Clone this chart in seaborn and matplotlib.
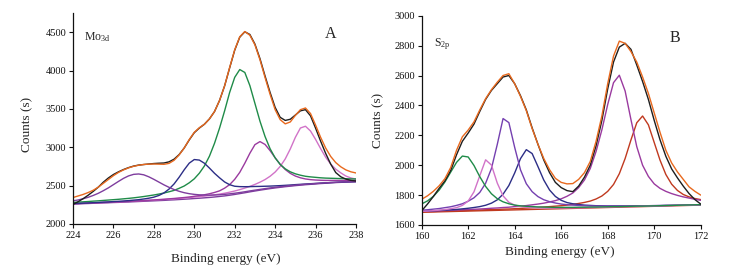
import matplotlib
matplotlib.use("Agg")
import matplotlib.pyplot as plt
import seaborn as sns

# ---------------- Panel A : Mo 3d ----------------
energy_a = [224.0, 224.25, 224.5, 224.75, 225.0, 225.25, 225.5, 225.75, 226.0, 226.25, 226.5, 226.75,
            227.0, 227.25, 227.5, 227.75, 228.0, 228.25, 228.5, 228.75, 229.0, 229.25, 229.5, 229.75,
            230.0, 230.25, 230.5, 230.75, 231.0, 231.25, 231.5, 231.75, 232.0, 232.25, 232.5, 232.75,
            233.0, 233.25, 233.5, 233.75, 234.0, 234.25, 234.5, 234.75, 235.0, 235.25, 235.5, 235.75,
            236.0, 236.25, 236.5, 236.75, 237.0, 237.25, 237.5, 237.75, 238.0]
baseline_a = [2260, 2262, 2265, 2267, 2270, 2272, 2275, 2277, 2280, 2282, 2285, 2287, 2290, 2293, 2296, 2299,
              2302, 2305, 2308, 2312, 2315, 2319, 2323, 2327, 2332, 2336, 2341, 2346, 2352, 2359, 2366, 2375,
              2385, 2396, 2407, 2419, 2430, 2441, 2451, 2461, 2470, 2478, 2486, 2493, 2500, 2506, 2512, 2517,
              2522, 2527, 2531, 2536, 2540, 2543, 2546, 2548, 2550]
purple_a = [2302, 2313, 2329, 2348, 2372, 2400, 2434, 2471, 2513, 2555, 2595, 2627, 2647, 2652, 2641, 2615,
            2582, 2546, 2510, 2478, 2449, 2426, 2408, 2395, 2386, 2380, 2377, 2376, 2378, 2381, 2386, 2393,
            2401, 2410, 2420, 2431, 2441, 2451, 2461, 2470, 2479, 2486, 2493, 2500, 2506, 2512, 2518, 2522,
            2527, 2532, 2536, 2541, 2544, 2547, 2550, 2552, 2554]
navy_a = [2266, 2268, 2272, 2274, 2278, 2281, 2285, 2288, 2292, 2296, 2300, 2305, 2311, 2317, 2326, 2336,
          2350, 2372, 2405, 2455, 2522, 2609, 2706, 2793, 2840, 2833, 2792, 2729, 2661, 2602, 2548, 2512,
          2492, 2487, 2486, 2487, 2489, 2490, 2492, 2494, 2497, 2500, 2504, 2508, 2513, 2517, 2521, 2525,
          2529, 2533, 2536, 2540, 2543, 2546, 2549, 2551, 2553]
green_a = [2281, 2285, 2289, 2293, 2298, 2302, 2307, 2312, 2317, 2322, 2328, 2334, 2341, 2349, 2358, 2368,
           2378, 2390, 2404, 2420, 2438, 2465, 2495, 2537, 2589, 2662, 2756, 2884, 3051, 3250, 3474, 3715,
           3911, 4013, 3975, 3804, 3572, 3340, 3141, 2981, 2862, 2776, 2719, 2680, 2654, 2636, 2622, 2614,
           2608, 2602, 2598, 2596, 2594, 2592, 2590, 2588, 2587]
magenta_a = [2264, 2266, 2269, 2271, 2274, 2277, 2280, 2282, 2286, 2288, 2292, 2294, 2298, 2301, 2305, 2309,
             2313, 2318, 2322, 2328, 2333, 2339, 2345, 2352, 2361, 2370, 2381, 2394, 2411, 2432, 2467, 2513,
             2582, 2673, 2792, 2922, 3034, 3074, 3037, 2956, 2863, 2778, 2710, 2660, 2625, 2602, 2587, 2578,
             2573, 2570, 2568, 2568, 2568, 2568, 2568, 2568, 2568]
pink_a = [2264, 2266, 2270, 2272, 2275, 2277, 2281, 2283, 2286, 2289, 2292, 2294, 2298, 2301, 2305, 2308,
          2312, 2316, 2320, 2324, 2328, 2333, 2339, 2344, 2351, 2356, 2363, 2371, 2380, 2390, 2401, 2415,
          2430, 2448, 2468, 2490, 2516, 2545, 2579, 2622, 2677, 2750, 2848, 2978, 3129, 3251, 3274, 3212,
          3103, 2983, 2870, 2781, 2714, 2666, 2625, 2600, 2585]
envelope_a = [2345, 2365, 2385, 2410, 2440, 2480, 2530, 2580, 2630, 2672, 2705, 2732, 2752, 2766, 2776, 2780,
              2782, 2780, 2778, 2790, 2830, 2900, 2990, 3100, 3195, 3255, 3300, 3370, 3465, 3610, 3800, 4040,
              4270, 4440, 4508, 4460, 4335, 4140, 3910, 3690, 3490, 3360, 3305, 3330, 3415, 3490, 3512, 3440,
              3290, 3130, 2990, 2880, 2800, 2745, 2705, 2680, 2665]
measured_a = [2255, 2290, 2330, 2375, 2425, 2480, 2545, 2600, 2645, 2680, 2710, 2735, 2755, 2768, 2775, 2782,
              2788, 2792, 2795, 2810, 2845, 2905, 2990, 3095, 3190, 3250, 3300, 3370, 3465, 3610, 3800, 4035,
              4265, 4435, 4505, 4470, 4345, 4155, 3930, 3715, 3520, 3390, 3350, 3365, 3420, 3475, 3490, 3410,
              3250, 3080, 2920, 2780, 2670, 2615, 2585, 2568, 2560]

# ---------------- Panel B : S 2p ----------------
energy_b = [160.0, 160.25, 160.5, 160.75, 161.0, 161.25, 161.5, 161.75, 162.0, 162.25, 162.5, 162.75,
            163.0, 163.25, 163.5, 163.75, 164.0, 164.25, 164.5, 164.75, 165.0, 165.25, 165.5, 165.75,
            166.0, 166.25, 166.5, 166.75, 167.0, 167.25, 167.5, 167.75, 168.0, 168.25, 168.5, 168.75,
            169.0, 169.25, 169.5, 169.75, 170.0, 170.25, 170.5, 170.75, 171.0, 171.25, 171.5, 171.75, 172.0]
baseline_b = [1685, 1686, 1687, 1688, 1689, 1690, 1691, 1692, 1693, 1694, 1695, 1696, 1697, 1698, 1699, 1700,
              1701, 1702, 1703, 1704, 1705, 1706, 1707, 1708, 1709, 1710, 1711, 1712, 1713, 1714, 1715, 1716,
              1717, 1718, 1719, 1720, 1721, 1722, 1723, 1724, 1725, 1726, 1727, 1728, 1729, 1730, 1731, 1732, 1733]
green_b = [1741, 1761, 1791, 1833, 1888, 1954, 2019, 2061, 2055, 1998, 1923, 1858, 1809, 1776, 1755, 1742,
           1733, 1728, 1725, 1723, 1721, 1720, 1719, 1718, 1718, 1718, 1718, 1719, 1719, 1720, 1720, 1721,
           1722, 1723, 1723, 1724, 1725, 1726, 1726, 1727, 1728, 1729, 1730, 1731, 1732, 1733, 1734, 1735, 1736]
pink_b = [1691, 1693, 1696, 1699, 1703, 1709, 1716, 1731, 1760, 1822, 1930, 2036, 2001, 1881, 1795, 1752,
          1733, 1724, 1719, 1717, 1715, 1714, 1714, 1714, 1714, 1714, 1715, 1715, 1716, 1717, 1718, 1719,
          1720, 1721, 1722, 1723, 1723, 1724, 1725, 1726, 1727, 1728, 1729, 1730, 1731, 1732, 1733, 1734, 1735]
violet_b = [1699, 1702, 1706, 1710, 1716, 1722, 1731, 1742, 1759, 1782, 1818, 1879, 1978, 2138, 2312, 2285,
            2119, 1969, 1876, 1823, 1790, 1769, 1756, 1747, 1740, 1736, 1733, 1731, 1729, 1728, 1727, 1727,
            1727, 1727, 1727, 1727, 1728, 1728, 1729, 1729, 1730, 1730, 1731, 1732, 1733, 1733, 1734, 1735, 1736]
navy_b = [1691, 1693, 1695, 1697, 1699, 1702, 1704, 1708, 1712, 1717, 1723, 1732, 1746, 1768, 1806, 1864,
          1948, 2044, 2104, 2078, 1991, 1901, 1834, 1791, 1765, 1750, 1742, 1737, 1733, 1731, 1729, 1728,
          1727, 1727, 1727, 1727, 1727, 1728, 1728, 1729, 1729, 1730, 1731, 1731, 1732, 1733, 1734, 1735, 1735]
purple_b = [1691, 1692, 1694, 1695, 1697, 1698, 1700, 1702, 1704, 1705, 1707, 1709, 1712, 1714, 1717, 1719,
            1723, 1726, 1730, 1735, 1740, 1746, 1754, 1763, 1775, 1792, 1814, 1850, 1901, 1978, 2092, 2237,
            2406, 2552, 2602, 2496, 2305, 2124, 2000, 1925, 1875, 1845, 1825, 1810, 1798, 1788, 1780, 1772, 1765]
red_b = [1688, 1689, 1690, 1692, 1693, 1694, 1695, 1696, 1698, 1699, 1700, 1702, 1703, 1704, 1706, 1707,
         1709, 1711, 1713, 1715, 1717, 1720, 1723, 1726, 1729, 1733, 1738, 1744, 1751, 1760, 1774, 1794,
         1825, 1871, 1943, 2045, 2169, 2284, 2329, 2270, 2152, 2034, 1938, 1873, 1831, 1804, 1788, 1777, 1770]
envelope_b = [1772, 1795, 1825, 1862, 1910, 1985, 2100, 2190, 2235, 2290, 2370, 2445, 2505, 2555, 2600, 2612,
              2545, 2460, 2365, 2245, 2140, 2045, 1970, 1912, 1885, 1875, 1877, 1905, 1950, 2025, 2160, 2330,
              2545, 2730, 2830, 2815, 2760, 2690, 2590, 2480, 2350, 2220, 2100, 2015, 1955, 1905, 1855, 1825, 1800]
measured_b = [1695, 1740, 1790, 1845, 1895, 1965, 2070, 2160, 2215, 2275, 2360, 2440, 2500, 2545, 2590, 2600,
              2545, 2465, 2370, 2250, 2140, 2035, 1950, 1885, 1850, 1830, 1823, 1860, 1920, 2000, 2130, 2300,
              2510, 2690, 2790, 2815, 2775, 2670, 2560, 2440, 2300, 2170, 2060, 1975, 1915, 1860, 1810, 1770, 1740]

xticks_a = [224, 226, 228, 230, 232, 234, 236, 238]
yticks_a = [2000, 2500, 3000, 3500, 4000, 4500]
xticks_b = [160, 162, 164, 166, 168, 170, 172]
yticks_b = [1600, 1800, 2000, 2200, 2400, 2600, 2800, 3000]

sns.set_style("ticks")
plt.rcParams["font.family"] = ["Liberation Serif", "DejaVu Serif"]
plt.rcParams["mathtext.fontset"] = "custom"
plt.rcParams["mathtext.rm"] = "Liberation Serif"
plt.rcParams["mathtext.it"] = "Liberation Serif:italic"

C_ORANGE = "#E8691E"
C_BLACK = "#1E1E1E"
C_GREEN = "#1F8B48"
C_NAVY = "#2C2E86"
C_PURPLE = "#7E3D9E"
C_MAGENTA = "#9A3A9F"
C_PINK = "#D173C8"
C_VIOLET = "#7440B0"
C_RED = "#C0391F"

fig = plt.figure(figsize=(7.55, 2.69), dpi=100)
axA = fig.add_axes([0.0967, 0.1673, 0.3748, 0.7844])
axB = fig.add_axes([0.5585, 0.1636, 0.3696, 0.7780])

LW = 1.0


def draw(ax, x, y, color):
    sns.lineplot(x=x, y=y, ax=ax, color=color, lw=LW, sort=False, estimator=None)


# Panel A
draw(axA, energy_a, baseline_a, C_PURPLE)
for ys, c in [(pink_a, C_PINK), (magenta_a, C_MAGENTA), (green_a, C_GREEN),
              (navy_a, C_NAVY), (purple_a, C_PURPLE)]:
    draw(axA, energy_a, ys, c)
draw(axA, energy_a, measured_a, C_BLACK)
draw(axA, energy_a, envelope_a, C_ORANGE)

# Panel B
draw(axB, energy_b, baseline_b, C_RED)
for ys, c in [(red_b, C_RED), (purple_b, C_MAGENTA), (navy_b, C_NAVY), (violet_b, C_VIOLET),
              (pink_b, C_PINK), (green_b, C_GREEN)]:
    draw(axB, energy_b, ys, c)
draw(axB, energy_b, measured_b, C_BLACK)
draw(axB, energy_b, envelope_b, C_ORANGE)

for ax, xt, yt, xl, yl in [(axA, xticks_a, yticks_a, (224, 238), (2000, 4750)),
                           (axB, xticks_b, yticks_b, (160, 172), (1600, 3000))]:
    ax.set_xlim(*xl)
    ax.set_ylim(*yl)
    ax.set_xticks(xt)
    ax.set_yticks(yt)
    ax.tick_params(direction="out", length=3, width=0.8, labelsize=7.5, pad=2, colors="#111111")
    for s in ["left", "bottom"]:
        ax.spines[s].set_linewidth(0.9)
        ax.spines[s].set_color("#111111")
    sns.despine(ax=ax)
    ax.set_xlabel("Binding energy (eV)", fontsize=9.5)
    ax.set_ylabel("Counts (s)", fontsize=9.5)
    ax.xaxis.label.set_va("center")
    ax.yaxis.label.set_va("center")

axA.xaxis.set_label_coords(0.54, -0.165)
axA.yaxis.set_label_coords(-0.163, 0.47)
axB.xaxis.set_label_coords(0.496, -0.13)
axB.yaxis.set_label_coords(-0.157, 0.50)

axA.text(0.039, 0.869, r"Mo$_{\mathregular{3d}}$", transform=axA.transAxes, fontsize=8.5, va="baseline", ha="left")
axA.text(0.912, 0.881, "A", transform=axA.transAxes, fontsize=11.5, va="baseline", ha="center")
axB.text(0.045, 0.852, r"S$_{\mathregular{2p}}$", transform=axB.transAxes, fontsize=8.5, va="baseline", ha="left")
axB.text(0.908, 0.876, "B", transform=axB.transAxes, fontsize=11.5, va="baseline", ha="center")

fig.savefig("out.png", dpi=100)
